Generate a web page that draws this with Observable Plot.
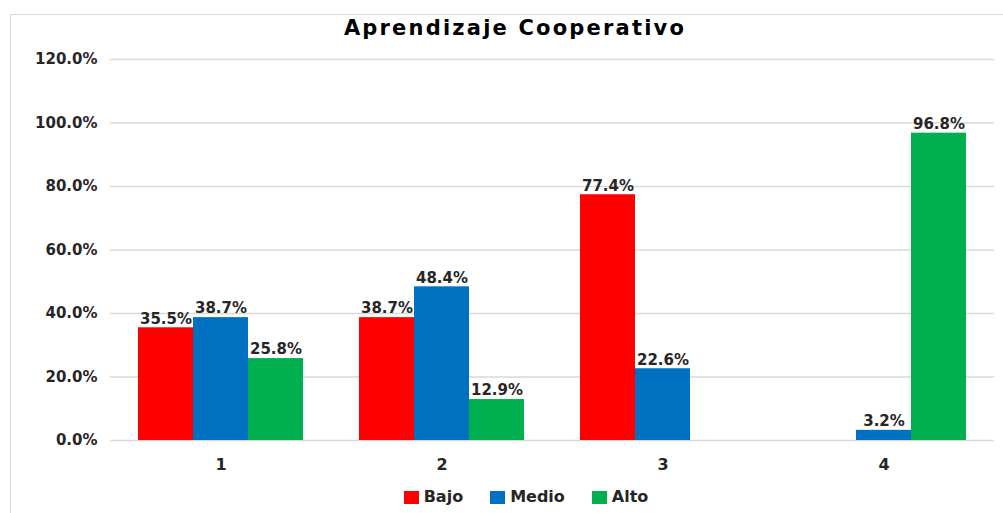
<!DOCTYPE html>
<html><head><meta charset="utf-8">
<script src="https://cdn.jsdelivr.net/npm/d3@7"></script>
<script src="https://cdn.jsdelivr.net/npm/@observablehq/plot@0.6"></script>
<style>
body{margin:0;background:#fff;font-family:"DejaVu Sans",sans-serif;}
#wrap{position:relative;width:1003px;height:513px;overflow:hidden;background:#fff;}
#frame{position:absolute;left:10px;top:14px;width:1100px;height:600px;border-left:1px solid #d9d9d9;border-top:1px solid #d9d9d9;}
#chart{position:absolute;left:0;top:0;}
#title{position:absolute;left:0;top:16px;width:1030px;text-align:center;font-size:21px;letter-spacing:2.2px;line-height:24px;font-weight:bold;color:#000;}
#legend{position:absolute;left:0;top:487px;width:1052px;display:flex;justify-content:center;gap:27px;font-size:16px;font-weight:bold;color:#262626;line-height:20px;}
#legend .item{display:flex;align-items:center;gap:5px;}
#legend .sw{width:15px;height:13px;display:inline-block;}
</style>
</head><body>
<div id="wrap"><div id="frame"></div><div id="chart"></div><div id="title"></div><div id="legend"></div></div>
<script>
const title = "Aprendizaje Cooperativo";
const groups = ["1", "2", "3", "4"];
const series = ["Bajo", "Medio", "Alto"];
const colors = ["#FF0000", "#0070C0", "#00B050"];
const bajo = [35.5, 38.7, 77.4, 0];
const medio = [38.7, 48.4, 22.6, 3.2];
const alto = [25.8, 12.9, 0, 96.8];
const yTicks = [0, 20, 40, 60, 80, 100, 120];

const values = [bajo, medio, alto];
const data = [];
groups.forEach((g, i) => series.forEach((s, j) => data.push({group: g, serie: s, value: values[j][i]})));

const fmt = d => d.toFixed(1) + "%";

const plot = Plot.plot({
  width: 1003,
  height: 480,
  marginLeft: 110,
  marginRight: 9,
  marginTop: 59,
  marginBottom: 40,
  style: {fontFamily: "DejaVu Sans, sans-serif", fontSize: "14px", fontWeight: "bold", color: "#262626", background: "transparent"},
  fx: {domain: groups, padding: 0, label: null},
  x: {domain: series, paddingInner: 0, paddingOuter: 0.5, axis: null},
  y: {domain: [0, 120], label: null},
  color: {domain: series, range: colors},
  marks: [
    Plot.gridY(yTicks, {stroke: "#d9d9d9", strokeOpacity: 1, strokeWidth: 1.5}),
    Plot.axisY(yTicks, {tickSize: 0, tickPadding: 13, tickFormat: fmt, label: null, fontSize: 15}),
    Plot.axisFx({anchor: "bottom", tickSize: 0, tickPadding: 18, label: null, fontSize: 16}),
    Plot.barY(data, {fx: "group", x: "serie", y: "value", fill: "serie"}),
    Plot.text(data.filter(d => d.value > 0), {fx: "group", x: "serie", y: "value", text: d => fmt(d.value), dy: -9, fill: "#262626", fontSize: 15})
  ]
});
document.getElementById("chart").appendChild(plot);
document.getElementById("title").textContent = title;
const leg = document.getElementById("legend");
series.forEach((s, i) => {
  const it = document.createElement("div"); it.className = "item";
  const sw = document.createElement("span"); sw.className = "sw"; sw.style.background = colors[i];
  const t = document.createElement("span"); t.textContent = s;
  it.appendChild(sw); it.appendChild(t); leg.appendChild(it);
});
</script>
</body></html>
